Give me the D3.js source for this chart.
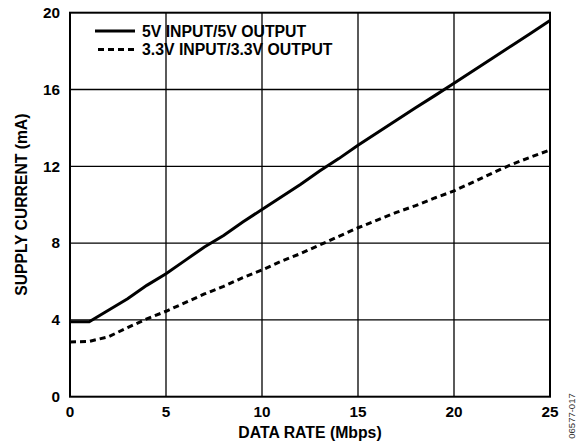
<!DOCTYPE html>
<html>
<head>
<meta charset="utf-8">
<script src="https://cdn.jsdelivr.net/npm/d3@7"></script>
<style>
  body { margin: 0; background: #fff; }
  text { font-family: Arial, "Liberation Sans", Helvetica, sans-serif; font-weight: bold; fill: #000; }
</style>
</head>
<body>
<script>
// data rate (Mbps)
const dataRate = [0, 1, 2, 3, 4, 5, 6, 7, 8, 9, 10, 11, 12, 13, 14, 15, 16, 17, 18, 19, 20, 21, 22, 23, 24, 25];
// supply current (mA), 5V input / 5V output
const current5V = [3.9, 3.9, 4.5, 5.1, 5.8, 6.4, 7.1, 7.8, 8.4, 9.1, 9.75, 10.4, 11.05, 11.75, 12.4, 13.1,
  13.75, 14.4, 15.05, 15.68, 16.33, 16.98, 17.63, 18.28, 18.93, 19.6];
// supply current (mA), 3.3V input / 3.3V output
const current3V3 = [2.85, 2.88, 3.12, 3.6, 4.05, 4.45, 4.9, 5.35, 5.75, 6.2, 6.6, 7.05, 7.45, 7.9, 8.35, 8.8,
  9.2, 9.6, 9.95, 10.35, 10.72, 11.18, 11.65, 12.1, 12.48, 12.85];
const xTicks = [0, 5, 10, 15, 20, 25];
const yTicks = [0, 4, 8, 12, 16, 20];
const seriesNames = ["5V INPUT/5V OUTPUT", "3.3V INPUT/3.3V OUTPUT"];

const w = 584;
const h = 444;
const margin = { top: 12.7, right: 34, bottom: 47.3, left: 70 };

const svg = d3.select("body")
  .append("svg")
  .attr("width", w)
  .attr("height", h);

const x = d3.scaleLinear()
  .domain([0, 25])
  .range([margin.left, w - margin.right]);

const y = d3.scaleLinear()
  .domain([0, 20])
  .range([h - margin.bottom, margin.top]);

// grid lines
svg.append("g")
  .selectAll("line.vx")
  .data(xTicks.slice(1, -1))
  .enter()
  .append("line")
  .attr("x1", d => x(d))
  .attr("x2", d => x(d))
  .attr("y1", y(0))
  .attr("y2", y(20))
  .attr("stroke", "#000")
  .attr("stroke-width", 1.3);

svg.append("g")
  .selectAll("line.hy")
  .data(yTicks.slice(1, -1))
  .enter()
  .append("line")
  .attr("x1", x(0))
  .attr("x2", x(25))
  .attr("y1", d => y(d))
  .attr("y2", d => y(d))
  .attr("stroke", "#000")
  .attr("stroke-width", 1.3);

// frame
svg.append("rect")
  .attr("x", x(0))
  .attr("y", y(20))
  .attr("width", x(25) - x(0))
  .attr("height", y(0) - y(20))
  .attr("fill", "none")
  .attr("stroke", "#000")
  .attr("stroke-width", 2);

// tick labels
svg.append("g")
  .selectAll("text")
  .data(xTicks)
  .enter()
  .append("text")
  .attr("x", d => x(d))
  .attr("y", y(0) + 20.5)
  .attr("text-anchor", "middle")
  .style("font-size", "15.3px")
  .text(d => d);

svg.append("g")
  .selectAll("text")
  .data(yTicks)
  .enter()
  .append("text")
  .attr("x", x(0) - 10)
  .attr("y", d => y(d) + 5.3)
  .attr("text-anchor", "end")
  .style("font-size", "15.3px")
  .text(d => d);

// axis titles
svg.append("text")
  .attr("x", (x(0) + x(25)) / 2)
  .attr("y", 438.3)
  .attr("text-anchor", "middle")
  .style("font-size", "15.8px")
  .text("DATA RATE (Mbps)");

svg.append("text")
  .attr("transform", `translate(26.5,${(y(0) + y(20)) / 2}) rotate(-90)`)
  .attr("text-anchor", "middle")
  .style("font-size", "15.7px")
  .text("SUPPLY CURRENT (mA)");

// figure code
svg.append("text")
  .attr("transform", "translate(575,416) rotate(-90)")
  .attr("text-anchor", "middle")
  .style("font-size", "9.5px")
  .style("font-weight", "normal")
  .style("fill", "#333")
  .text("06577-017");

// curves
const line = d3.line()
  .x((d, i) => x(dataRate[i]))
  .y(d => y(d));

svg.append("path")
  .datum(current5V)
  .attr("d", line)
  .attr("fill", "none")
  .attr("stroke", "#000")
  .attr("stroke-width", 3);

svg.append("path")
  .datum(current3V3)
  .attr("d", line)
  .attr("fill", "none")
  .attr("stroke", "#000")
  .attr("stroke-width", 3)
  .attr("stroke-dasharray", "6,4");

// legend
const legend = svg.append("g");
const legendRows = [
  { name: seriesNames[0], dash: null, ly: 31 },
  { name: seriesNames[1], dash: "6,4", ly: 49.5 }
];
legendRows.forEach(r => {
  legend.append("line")
    .attr("x1", 95)
    .attr("x2", 135)
    .attr("y1", r.ly)
    .attr("y2", r.ly)
    .attr("stroke", "#000")
    .attr("stroke-width", 3)
    .attr("stroke-dasharray", r.dash)
    .attr("stroke-dashoffset", r.dash ? -3 : null);
  legend.append("text")
    .attr("x", 142)
    .attr("y", r.ly + 5.5)
    .style("font-size", "15.8px")
    .text(r.name);
});
</script>
</body>
</html>
